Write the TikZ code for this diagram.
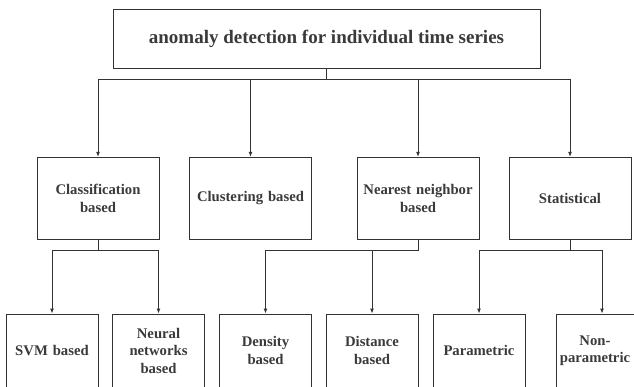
\documentclass[tikz,border=0pt]{standalone}
\usepackage{fontspec}
\setmainfont{Liberation Serif}
\usepackage{tikz}
\usetikzlibrary{arrows.meta}

\definecolor{boxline}{HTML}{333333}
\definecolor{boxtext}{HTML}{3A3A3A}

\tikzset{
  catbox/.style={draw=boxline,line width=0.9pt,fill=white,align=center,
    text=boxtext,font=\bfseries\fontsize{14.7}{17.5}\selectfont,
    inner sep=2pt},
  midbox/.style={catbox,minimum width=122pt,minimum height=82pt,text width=116pt},
  lowbox/.style={catbox,minimum width=92pt,minimum height=73pt,text width=88pt},
  link/.style={draw=boxline,line width=0.9pt},
  arr/.style={link,-{Latex[length=5pt,width=4pt]}}
}

\begin{document}
\begin{tikzpicture}[x=1pt,y=-1pt]
    \useasboundingbox (0,0) rectangle (634,386);
    \clip (0,0) rectangle (634,386);
    % root
    \node[catbox,minimum width=427pt,minimum height=59pt,
      font=\bfseries\fontsize{19}{22}\selectfont] (root) at (326.5,38.8)
      {anomaly detection for individual time series};
    % second level
    \node[midbox] (cls) at (98,198.3) {Classification\\based};
    \node[midbox] (clu) at (250.5,198.3) {Clustering based};
    \node[midbox] (nn) at (418,198.3) {Nearest neighbor\\based};
    \node[midbox] (sta) at (570,198.3) {Statistical};
    % third level
    \node[lowbox] (svm) at (52,350.5) {SVM based};
    \node[lowbox] (nnet) at (158.5,350.5) {Neural\\networks\\based};
    \node[lowbox] (den) at (265.5,350.5) {Density\\based};
    \node[lowbox] (dis) at (372,350.5) {Distance\\based};
    \node[lowbox] (par) at (479,350.5) {Parametric};
    \node[lowbox] (npar) at (602,350.5)
      {\hspace*{-14pt}Non-\\\hspace*{-14pt}parametric};
    % root to second level
    \coordinate (j0) at (326.5,79.3);
    \draw[link] (root.south) -- (j0);
    \foreach \n in {cls,clu,nn,sta}
      \draw[arr] (j0) -| (\n.north);
    % second to third level
    \coordinate (j1) at (98,250.7);
    \coordinate (j2) at (418,250.7);
    \coordinate (j3) at (570,250.7);
    \draw[link] (cls.south) -- (j1);
    \draw[link] (nn.south) -- (j2);
    \draw[link] (sta.south) -- (j3);
    \draw[arr] (j1) -| (svm.north);
    \draw[arr] (j1) -| (nnet.north);
    \draw[arr] (j2) -| (den.north);
    \draw[arr] (j2) -| (dis.north);
    \draw[arr] (j3) -| (par.north);
    \draw[arr] (j3) -| (npar.north);
\end{tikzpicture}
\end{document}
